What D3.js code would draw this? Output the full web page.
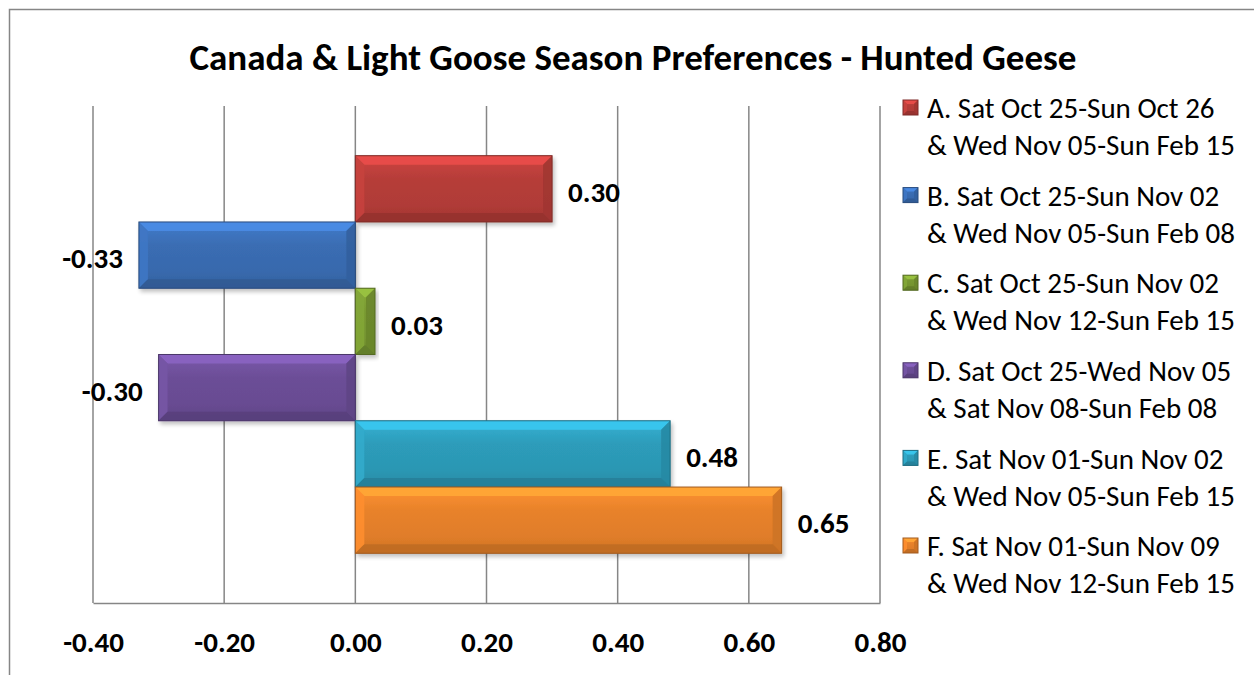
<!DOCTYPE html>
<html>
<head>
<meta charset="utf-8">
<script src="https://cdn.jsdelivr.net/npm/d3@7"></script>
<style>
  html, body { margin: 0; padding: 0; background: #fff; }
  svg { display: block; }
  text { font-family: Carlito, Calibri, Lato, "Open Sans", sans-serif; fill: #000; }
</style>
</head>
<body>
<svg id="chart" width="1254" height="675"></svg>
<script>
// ---------- data ----------
const title = "Canada & Light Goose Season Preferences - Hunted Geese";
const seriesIds = ["A", "B", "C", "D", "E", "F"];
const seriesLine1 = [
  "A. Sat Oct 25-Sun Oct 26",
  "B. Sat Oct 25-Sun Nov 02",
  "C. Sat Oct 25-Sun Nov 02",
  "D. Sat Oct 25-Wed Nov 05",
  "E. Sat Nov 01-Sun Nov 02",
  "F. Sat Nov 01-Sun Nov 09"
];
const seriesLine2 = [
  "& Wed Nov 05-Sun Feb 15",
  "& Wed Nov 05-Sun Feb 08",
  "& Wed Nov 12-Sun Feb 15",
  "& Sat Nov 08-Sun Feb 08",
  "& Wed Nov 05-Sun Feb 15",
  "& Wed Nov 12-Sun Feb 15"
];
const values = [0.30, -0.33, 0.03, -0.30, 0.48, 0.65];
const colors = ["#b63d39", "#3a6db3", "#789832", "#6c4e97", "#2d9cba", "#e8822b"];
const xTicks = [-0.40, -0.20, 0.00, 0.20, 0.40, 0.60, 0.80];

// ---------- layout ----------
const svg = d3.select("#chart");
const W = 1254, H = 675;
const plot = { left: 93, right: 880, top: 106, bottom: 603 };
const fmt = v => d3.format(".2f")(v).replace("\u2212", "-");

const x = d3.scaleLinear().domain([-0.4, 0.8]).range([plot.left, plot.right]);
const y = d3.scaleBand().domain(seriesIds).range([plot.top, plot.bottom])
  .paddingInner(0).paddingOuter(0.75);

// background + border
svg.append("rect").attr("x", 0).attr("y", 0).attr("width", W).attr("height", H).attr("fill", "#fff");
svg.append("rect").attr("x", 9.5).attr("y", 9.5).attr("width", W + 20).attr("height", H + 20)
  .attr("fill", "none").attr("stroke", "#868686").attr("stroke-width", 1.5);

// title
svg.append("text").attr("x", 633).attr("y", 57).attr("dy", "0.35em")
  .attr("text-anchor", "middle").attr("font-weight", "bold").attr("font-size", 37)
  .text(title);

// defs: gradients + shadow
const defs = svg.append("defs");
const shadow = defs.append("filter").attr("id", "shadow").attr("x", "-10%").attr("y", "-10%")
  .attr("width", "130%").attr("height", "140%");
shadow.append("feGaussianBlur").attr("in", "SourceAlpha").attr("stdDeviation", 2);
shadow.append("feOffset").attr("dx", 2).attr("dy", 3).attr("result", "ob");
shadow.append("feComponentTransfer").append("feFuncA").attr("type", "linear").attr("slope", 0.25);
const mrg = shadow.append("feMerge");
mrg.append("feMergeNode");
mrg.append("feMergeNode").attr("in", "SourceGraphic");

colors.forEach((c, i) => {
  const g = defs.append("linearGradient").attr("id", "grad" + i)
    .attr("x1", 0).attr("y1", 0).attr("x2", 0).attr("y2", 1);
  const base = d3.color(c);
  g.append("stop").attr("offset", "0%").attr("stop-color", base.brighter(0.35));
  g.append("stop").attr("offset", "35%").attr("stop-color", base);
  g.append("stop").attr("offset", "75%").attr("stop-color", base.darker(0.1));
  g.append("stop").attr("offset", "100%").attr("stop-color", base.darker(0.35));
});

// gridlines
svg.append("g").selectAll("line").data(xTicks).join("line")
  .attr("x1", d => x(d)).attr("x2", d => x(d))
  .attr("y1", plot.top).attr("y2", plot.bottom)
  .attr("stroke", "#868686").attr("stroke-width", 1.5);

// bevelled bar drawing
function bevelBar(g, x0, y0, w, h, c, i, bev) {
  const b = Math.min(bev, w / 2, h / 2);
  const x1 = x0 + w, y1 = y0 + h;
  const base = d3.color(c);
  g.append("rect").attr("x", x0).attr("y", y0).attr("width", w).attr("height", h)
    .attr("fill", `url(#grad${i})`);
  g.append("path").attr("d", `M${x0},${y0}L${x1},${y0}L${x1 - b},${y0 + b}L${x0 + b},${y0 + b}Z`)
    .attr("fill", base.brighter(0.7)).attr("opacity", 0.9);
  g.append("path").attr("d", `M${x0},${y0}L${x0 + b},${y0 + b}L${x0 + b},${y1 - b}L${x0},${y1}Z`)
    .attr("fill", base.brighter(0.25)).attr("opacity", 0.9);
  g.append("path").attr("d", `M${x1},${y0}L${x1},${y1}L${x1 - b},${y1 - b}L${x1 - b},${y0 + b}Z`)
    .attr("fill", base.darker(0.35)).attr("opacity", 0.9);
  g.append("path").attr("d", `M${x0},${y1}L${x0 + b},${y1 - b}L${x1 - b},${y1 - b}L${x1},${y1}Z`)
    .attr("fill", base.darker(0.55)).attr("opacity", 0.9);
  g.append("rect").attr("x", x0).attr("y", y0).attr("width", w).attr("height", h)
    .attr("fill", "none").attr("stroke", base.darker(1.0)).attr("stroke-width", 1);
}

const barsG = svg.append("g");
values.forEach((v, i) => {
  const id = seriesIds[i];
  const g = barsG.append("g").attr("filter", "url(#shadow)");
  const x0 = Math.min(x(0), x(v));
  const w = Math.abs(x(v) - x(0));
  bevelBar(g, x0, y(id), w, y.bandwidth(), colors[i], i, 9);
});

// data labels
svg.append("g").selectAll("text").data(values).join("text")
  .attr("x", d => d >= 0 ? x(d) + 16 : x(d) - 16)
  .attr("y", (d, i) => y(seriesIds[i]) + y.bandwidth() / 2 + 3)
  .attr("dy", "0.35em")
  .attr("text-anchor", d => d >= 0 ? "start" : "end")
  .attr("font-weight", "bold").attr("font-size", 29)
  .text(d => fmt(d));

// x axis
const axis = d3.axisBottom(x).tickValues(xTicks).tickFormat(fmt)
  .tickSize(0).tickSizeOuter(0).tickPadding(0);
const axG = svg.append("g").attr("transform", `translate(0,${plot.bottom})`).call(axis);
axG.select(".domain").attr("stroke", "#868686").attr("stroke-width", 1.5);
axG.selectAll(".tick text").attr("y", 39).attr("dy", "0.35em")
  .attr("font-weight", "bold").attr("font-size", 29)
  .attr("font-family", "Carlito, Calibri, Lato, sans-serif").attr("fill", "#000");

// legend
const legTop = 108, legStep = 87.6, lineGap = 37;
const leg = svg.append("g");
seriesIds.forEach((id, i) => {
  const cy = legTop + i * legStep;
  const g = leg.append("g");
  bevelBar(g, 903, cy - 8, 15, 15, colors[i], i, 4);
  g.append("text").attr("x", 927).attr("y", cy).attr("dy", "0.35em")
    .attr("font-size", 29).text(seriesLine1[i]);
  g.append("text").attr("x", 927).attr("y", cy + lineGap).attr("dy", "0.35em")
    .attr("font-size", 29).text(seriesLine2[i]);
});
</script>
</body>
</html>
